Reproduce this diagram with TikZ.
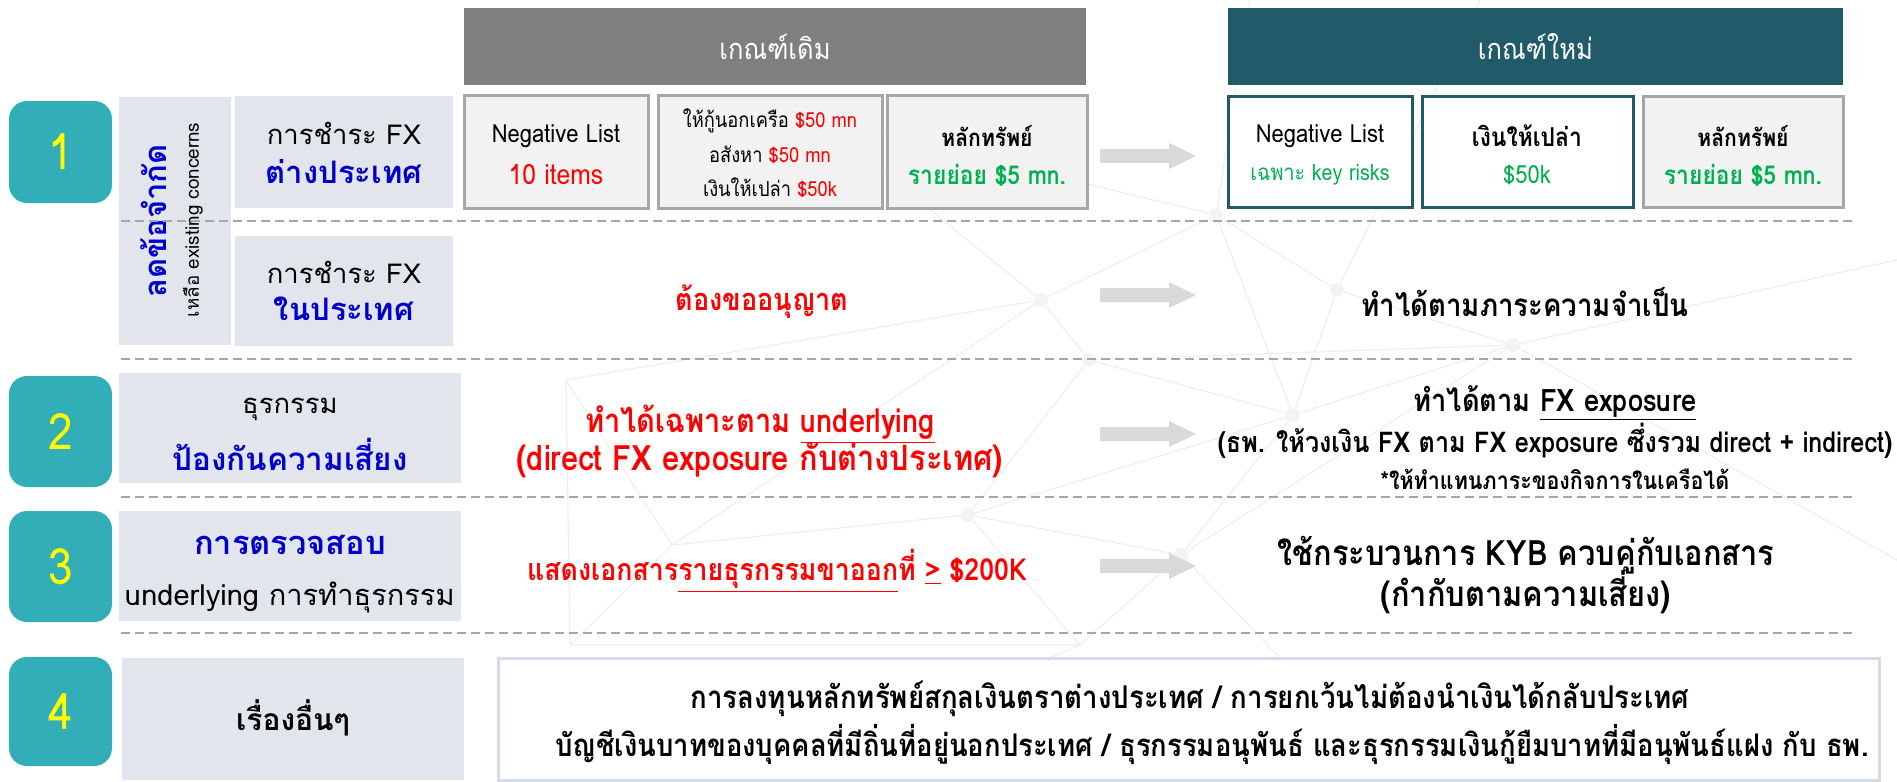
\documentclass[tikz,border=0pt]{standalone}
\usepackage{fontspec}
\usetikzlibrary{fit}
\setmainfont{Loma}[Script=Thai]
\newfontfamily\cnd{Loma}[Script=Thai, FakeStretch=0.88]
\definecolor{badgec}{HTML}{31AEB8}
\definecolor{lblc}{HTML}{E2E5EC}
\definecolor{hdrold}{HTML}{7F7F7F}
\definecolor{hdrnew}{HTML}{215A69}
\definecolor{oldfill}{HTML}{F2F2F2}
\definecolor{oldline}{HTML}{A6A6A6}
\definecolor{tred}{HTML}{FF0000}
\definecolor{tgreen}{HTML}{00B050}
\definecolor{tblue}{HTML}{0000CC}
\definecolor{arrowc}{HTML}{D9D9D9}
\definecolor{dashc}{HTML}{A6A6A6}
\definecolor{box4c}{HTML}{D6DCE5}
\definecolor{netc}{HTML}{EEEEEE}
\definecolor{yel}{HTML}{FFFF00}
\newcommand\fs[1]{\fontsize{#1}{#1}\selectfont}
\tikzset{
  every node/.style={inner sep=0pt, outer sep=0pt},
  badge/.style={fill=badgec, rounded corners=9pt},
  digit/.style={text=yel, font=\cnd\fs{25}},
  lblbox/.style={fill=lblc},
  lbltxt/.style={font=\fs{13.7}},
  lblblue/.style={text=tblue, font=\bfseries\fs{15.5}},
  oldbox/.style={fill=oldfill, draw=oldline, line width=1.5pt},
  newbox/.style={fill=white, draw=hdrnew, line width=1.5pt},
  hdr/.style={text=white, font=\cnd\fs{14.5}},
  boxtxt/.style={font=\cnd\fs{12.5}},
  boxbold/.style={font=\cnd\bfseries\fs{12}},
  smalltxt/.style={font=\cnd\fs{10.4}},
  dashline/.style={draw=dashc, line width=1pt, dash pattern=on 4.5pt off 2.5pt},
  net/.style={draw=netc, line width=0.6pt},
  blk/.style={fill=arrowc},
}
\newcommand\blockarrow[2]{%
  \fill[blk] (1100,{#2-7}) -- (1169,{#2-7}) -- (1169,{#2-13}) -- (1196,#2)
    -- (1169,{#2+13}) -- (1169,{#2+7}) -- (1100,{#2+7}) -- cycle;
  \coordinate (#1) at (1148,#2);}
\begin{document}
\begin{tikzpicture}[x=0.5pt,y=-0.5pt]
\useasboundingbox (0,0) rectangle (1897,782);
% faint background network
\foreach \n/\p in {a/{1216,215},b/{1337,290},c/{1041,300},d/{1513,345},e/{1089,360},
  f/{1293,415},g/{566,380},h/{968,515},i/{672,545},j/{1181,555},k/{1080,645},l/{570,645},
  m/{1250,0},o/{1480,0},q/{760,782},r/{1897,260},s/{1897,560},t/{820,120},u/{1400,782}}
  {\coordinate (n\n) at (\p);}
\draw[net] (na)--(nc) (na)--(nb) (na)--(nf) (na)--(nm) (nb)--(nd) (nb)--(nf) (nb)--(no)
  (nc)--(ne) (nc)--(ng) (nc)--(ni) (nc)--(nt) (ne)--(nf) (ne)--(nh) (ne)--(nd)
  (nf)--(nd) (nf)--(nh) (nf)--(nj) (nh)--(ni) (nh)--(nk) (nh)--(nj) (nj)--(nk)
  (ni)--(nl) (ng)--(nl) (ng)--(ni) (nd)--(nj) (nd)--(nr) (nd)--(ns) (nk)--(nq)
  (nj)--(nu) (nk)--(nl) (nt)--(na);
\foreach \n in {a,b,c,d,e,f,h,j}{\fill[netc!70] (n\n) circle (7);}

% headers
\node[fill=hdrold, fit={(464,8)(1086,85)}] (hold) {};
\node[hdr] at (hold.center) {เกณฑ์เดิม};
\node[fill=hdrnew, fit={(1228,8)(1843,85)}] (hnew) {};
\node[hdr] at (hnew.center) {เกณฑ์ใหม่};

% badges
\node[badge, fit={(9,101)(112,203)}] (b1) {};
\node[digit] at (b1.center) {1};
\node[badge, fit={(9,376)(112,487)}] (b2) {};
\node[digit] at (b2.center) {2};
\node[badge, fit={(9,511)(112,622)}] (b3) {};
\node[digit] at (b3.center) {3};
\node[badge, fit={(9,657)(112,766)}] (b4) {};
\node[digit] at (b4.center) {4};

% label boxes
\node[lblbox, fit={(119,97)(231,345)}] (vbox) {};
\node[rotate=90, text=tblue, font=\bfseries\fs{15.5}] (vt1) at (154,221) {ลดข้อจำกัด};
\node[rotate=90, font=\fs{9.4}] (vt2) at (193,220) {เหลือ existing concerns};
\node[lblbox, fit={(235,96)(453,208)}] (l1a) {};
\node[lbltxt] at (344,133) {การชำระ FX};
\node[lblblue] at (344,172) {ต่างประเทศ};
\node[lblbox, fit={(235,236)(453,346)}] (l1b) {};
\node[lbltxt] at (344,272) {การชำระ FX};
\node[lblblue] at (344,309) {ในประเทศ};
\node[lblbox, fit={(119,373)(461,483)}] (l2) {};
\node[lbltxt] at (290,409) {ธุรกรรม};
\node[lblblue, font=\bfseries\fs{15.7}] at (290,454) {ป้องกันความเสี่ยง};
\node[lblbox, fit={(119,511)(461,621)}] (l3) {};
\node[lblblue, font=\bfseries\fs{16.3}] at (290,545) {การตรวจสอบ};
\node[lbltxt, font=\fs{14.5}] at (290,597) {underlying การทำธุรกรรม};
\node[lblbox, fit={(122,658)(464,780)}] (l4) {};
\node[font=\bfseries\fs{15}] at (293,718) {เรื่องอื่นๆ};

% old boxes
\node[oldbox, fit={(464,95)(648,208)}] (o1) {};
\node[boxtxt] at (556,136) {Negative List};
\node[boxtxt, text=tred, font=\cnd\fs{14}] at (556,175) {10 items};
\node[oldbox, fit={(658,95)(882,208)}] (o2) {};
\node[smalltxt] at (770,121) {ให้กู้นอกเครือ \textcolor{tred}{\$50 mn}};
\node[smalltxt] at (770,155) {อสังหา \textcolor{tred}{\$50 mn}};
\node[smalltxt] at (770,188) {เงินให้เปล่า \textcolor{tred}{\$50k}};
\node[oldbox, fit={(887,95)(1087,208)}] (o3) {};
\node[boxbold] at (987,136) {หลักทรัพย์};
\node[boxbold, text=tgreen, font=\cnd\bfseries\fs{13}] at (987,175) {รายย่อย \$5 mn.};

% new boxes
\node[newbox, fit={(1228,96)(1412,207)}] (n1) {};
\node[boxtxt] at (1320,136) {Negative List};
\node[boxtxt, text=tgreen, font=\cnd\fs{11.2}] at (1320,175) {เฉพาะ key risks};
\node[newbox, fit={(1422,96)(1633,207)}] (n2) {};
\node[boxbold, font=\cnd\bfseries\fs{13}] at (1527,136) {เงินให้เปล่า};
\node[boxtxt, text=tgreen] at (1527,175) {\$50k};
\node[oldbox, fit={(1643,96)(1843,207)}] (n3) {};
\node[boxbold] at (1743,136) {หลักทรัพย์};
\node[boxbold, text=tgreen, font=\cnd\bfseries\fs{13}] at (1743,175) {รายย่อย \$5 mn.};

% dashed separators
\foreach \y in {221,359,497,633}{\draw[dashline] (121,\y) -- (1854,\y);}

% arrows
\blockarrow{a1}{156}
\blockarrow{a2}{295}
\blockarrow{a3}{434}
\blockarrow{a4}{566}

% row 1b
\node[text=tred, font=\cnd\bfseries\fs{15.4}] (r1old) at (762,302) {ต้องขออนุญาต};
\node[font=\cnd\bfseries\fs{15.7}] (r1new) at (1525,302) {ทำได้ตามภาระความจำเป็น};

% row 2
\node[text=tred, font=\cnd\bfseries\fs{16.5}] (r2o1) at (760,424) {ทำได้เฉพาะตาม \underline{underlying}};
\node[text=tred, font=\cnd\bfseries\fs{17.5}] (r2o2) at (760,460) {(direct FX exposure กับต่างประเทศ)};
\node[font=\cnd\bfseries\fs{15.5}] (r2a) at (1555,403) {ทำได้ตาม \underline{FX exposure}};
\node[font=\cnd\bfseries\fs{14.3}] (r2b) at (1555,441) {(ธพ. ให้วงเงิน FX ตาม FX exposure ซึ่งรวม direct + indirect)};
\node[font=\cnd\bfseries\fs{12.2}] (r2c) at (1555,479) {*ให้ทำแทนภาระของกิจการในเครือได้};

% row 3
\node[text=tred, font=\cnd\bfseries\fs{15.2}] (r3old) at (777,571)
  {แสดงเอกสาร\underline{รายธุรกรรมขาออก}ที่ \underline{>} \$200K};
\node[font=\cnd\bfseries\fs{17.5}] (r3n1) at (1526,555) {ใช้กระบวนการ KYB ควบคู่กับเอกสาร};
\node[font=\cnd\bfseries\fs{17.5}] (r3n2) at (1526,592) {(กำกับตามความเสี่ยง)};

% row 4
\node[draw=box4c, fill=white, line width=1.5pt, fit={(498,658)(1879,780)}] (big) {};
\node[font=\cnd\bfseries\fs{15.7}] (r4a) at (1190,699) {การลงทุนหลักทรัพย์สกุลเงินตราต่างประเทศ / การยกเว้นไม่ต้องนำเงินได้กลับประเทศ};
\node[font=\cnd\bfseries\fs{15.6}] (r4b) at (1212,745) {บัญชีเงินบาทของบุคคลที่มีถิ่นที่อยู่นอกประเทศ / ธุรกรรมอนุพันธ์ และธุรกรรมเงินกู้ยืมบาทที่มีอนุพันธ์แฝง กับ ธพ.};
\end{tikzpicture}
\end{document}
